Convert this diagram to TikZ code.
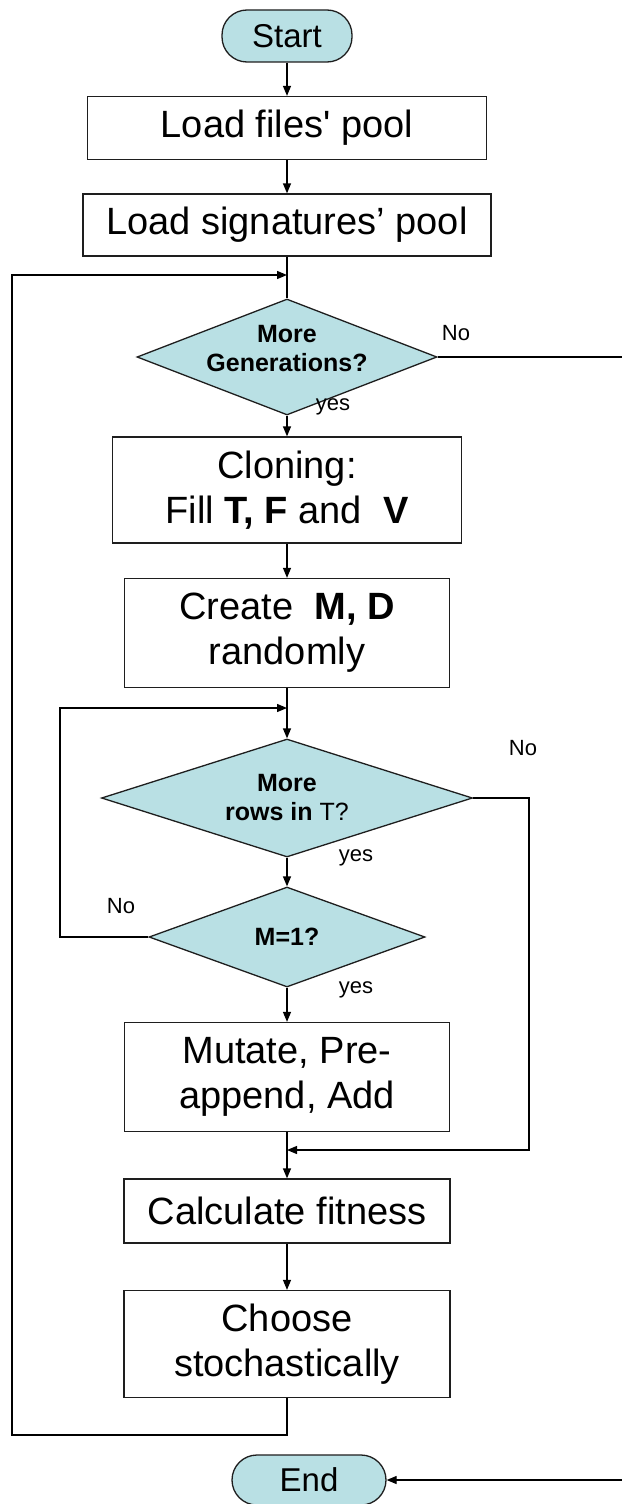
\documentclass[tikz,border=0pt]{standalone}
\usepackage{fontspec}
\setmainfont{Liberation Sans}
\usetikzlibrary{shapes.geometric,arrows.meta}
\definecolor{flowfill}{RGB}{185,224,228}
\definecolor{flowline}{RGB}{30,30,30}
\begin{document}
\begin{tikzpicture}[x=1pt,y=-1pt,line width=1.3pt,
  terminal/.style={draw=flowline,fill=flowfill,rectangle,rounded corners=25pt,
    inner sep=0pt,font=\fontsize{33}{36}\selectfont},
  stepbox/.style={draw=flowline,fill=white,rectangle,inner sep=0pt,align=center,
    font=\fontsize{38}{45}\selectfont},
  decision/.style={draw=flowline,fill=flowfill,diamond,inner sep=0pt,align=center,
    font=\fontsize{25}{29}\selectfont},
  lbl/.style={inner sep=0pt,font=\fontsize{22}{26}\selectfont},
  arr/.style={-{Triangle[length=10pt,width=8pt]}}]
\useasboundingbox (0,0) rectangle (621,1504);
\fill[white] (0,0) rectangle (621,1504);

% main column of steps
\node[terminal,minimum width=130pt,minimum height=52pt] (start) at (287,36) {Start};
\node[stepbox,minimum width=399pt,minimum height=63pt] (load1) at (287,128)
  {Load files\textquotesingle{} pool};
\node[stepbox,minimum width=408pt,minimum height=62pt] (load2) at (287,225)
  {Load signatures’ pool};
\node[decision,aspect=2.59,minimum width=300pt,minimum height=116pt] (gen) at (287,357)
  {\raisebox{0pt}[20pt][20pt]{\begin{tabular}{@{}c@{}}\textbf{More}\\\textbf{Generations?}\end{tabular}}};
\node[stepbox,minimum width=349pt,minimum height=106pt] (clone) at (287,490)
  {Cloning:\\Fill \textbf{T,} \textbf{F} and\ \ \textbf{V}};
\node[stepbox,minimum width=325pt,minimum height=109pt] (create) at (287,633)
  {Create\ \ \textbf{M, D}\\randomly};
\node[decision,aspect=3.14,minimum width=371pt,minimum height=118pt] (rows) at (287,798)
  {\textbf{More}\\\textbf{rows in} T?};
\node[decision,aspect=2.76,minimum width=276pt,minimum height=100pt] (mone) at (287,937)
  {\textbf{M=1?}};
\node[stepbox,minimum width=325pt,minimum height=109pt] (mutate) at (287,1077)
  {Mutate, Pre-\\append, Add};
\node[stepbox,minimum width=326pt,minimum height=64pt] (fit) at (287,1211)
  {Calculate fitness};
\node[stepbox,minimum width=326pt,minimum height=107pt] (choose) at (287,1344)
  {Choose\\stochastically};
\node[terminal,minimum width=154pt,minimum height=50pt] (end) at (309,1480) {End};

% junctions and corner points of the loops
\coordinate (jtop) at (287,275);
\coordinate (jmid) at (287,708);
\coordinate (jlow) at (287,1150);
\coordinate (loopbl) at (12,1435);
\coordinate (noleft) at (60,708);
\coordinate (noright) at (529,798);
\coordinate (edge) at (623,357);

% straight flow
\draw[arr] (start) -- (load1);
\draw[arr] (load1) -- (load2);
\draw (load2) -- (gen);
\draw[arr] (gen) -- (clone);
\draw[arr] (clone) -- (create);
\draw[arr] (create) -- (rows);
\draw[arr] (rows) -- (mone);
\draw[arr] (mone) -- (mutate);
\draw[arr] (mutate) -- (fit);
\draw[arr] (fit) -- (choose);

% loops and exits
\draw[arr] (choose.south) |- (loopbl) |- (jtop);
\draw[arr] (mone.west) -| (noleft) -- (jmid);
\draw[arr] (rows.east) -- (noright) |- (jlow);
\draw[arr] (gen.east) -- (edge) |- (end.east);

% branch labels
\node[lbl] (ygen) at (333,407) {yes};
\node[lbl] (ngen) at (456,333) {No};
\node[lbl] (nrows) at (523,748) {No};
\node[lbl] (yrows) at (356,858) {yes};
\node[lbl] (nmone) at (121,906) {No};
\node[lbl] (ymone) at (356,990) {yes};
\end{tikzpicture}
\end{document}
